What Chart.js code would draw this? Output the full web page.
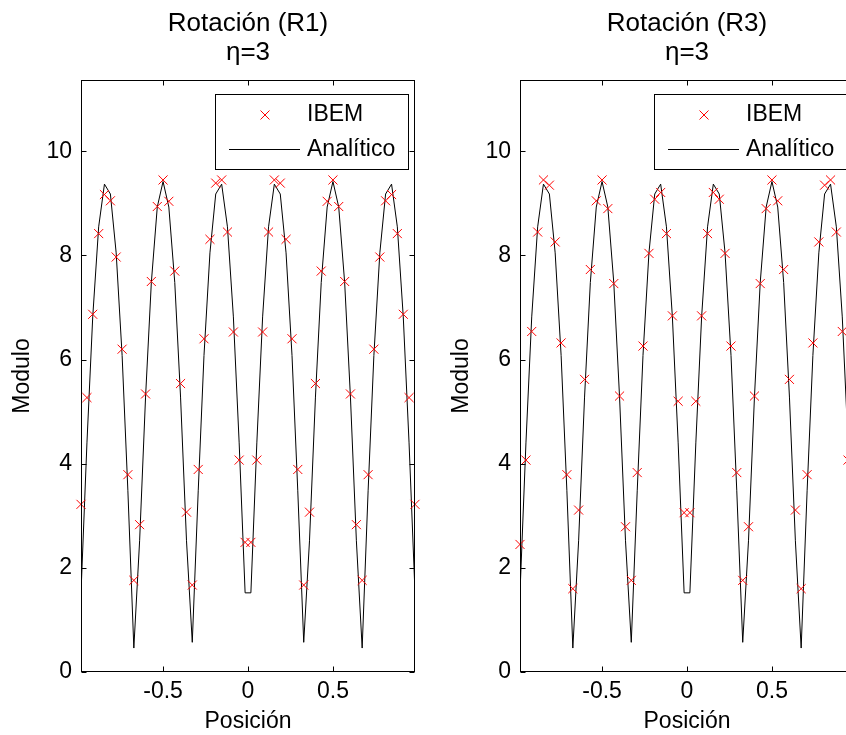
<!DOCTYPE html>
<html>
<head>
<meta charset="utf-8">
<script src="https://cdn.jsdelivr.net/npm/chart.js@4.4.1/dist/chart.umd.min.js"></script>
<style>
  html, body { margin: 0; padding: 0; background: #fff; overflow: hidden; }
  body { width: 846px; height: 735px; position: relative; }
  .panel { position: absolute; top: 0; width: 430px; height: 735px; }
</style>
</head>
<body>
<div class="panel" style="left:0"><canvas id="graficoR1"></canvas></div>
<div class="panel" style="left:439px"><canvas id="graficoR3"></canvas></div>
<script>
// posiciones de los elementos (centros) y valores
const posicion = [-0.983, -0.948, -0.914, -0.879, -0.845, -0.810, -0.776, -0.741, -0.707, -0.672,
  -0.638, -0.603, -0.569, -0.534, -0.500, -0.466, -0.431, -0.397, -0.362, -0.328,
  -0.293, -0.259, -0.224, -0.190, -0.155, -0.121, -0.086, -0.052, -0.017,
  0.017, 0.052, 0.086, 0.121, 0.155, 0.190, 0.224, 0.259, 0.293,
  0.328, 0.362, 0.397, 0.431, 0.466, 0.500, 0.534, 0.569, 0.603, 0.638,
  0.672, 0.707, 0.741, 0.776, 0.810, 0.845, 0.879, 0.914, 0.948, 0.983];

const analitico = [1.52, 4.40, 6.82, 8.55, 9.37, 9.18, 8.05, 6.08, 3.48, 0.46,
  2.52, 5.28, 7.48, 8.93, 9.42, 8.93, 7.48, 5.28, 2.52, 0.57,
  3.48, 6.08, 8.05, 9.18, 9.37, 8.55, 6.82, 4.40, 1.52,
  1.52, 4.40, 6.82, 8.55, 9.37, 9.18, 8.05, 6.08, 3.48,
  0.57, 2.52, 5.28, 7.48, 8.93, 9.42, 8.93, 7.48, 5.28, 2.52,
  0.46, 3.48, 6.08, 8.05, 9.18, 9.37, 8.55, 6.82, 4.40, 1.52];

const ibemR1 = [3.22, 5.27, 6.87, 8.42, 9.17, 9.05, 7.97, 6.20, 3.79, 1.76,
  2.83, 5.34, 7.50, 8.94, 9.45, 9.04, 7.70, 5.54, 3.07, 1.67,
  3.89, 6.40, 8.31, 9.39, 9.45, 8.45, 6.53, 4.07, 2.49,
  2.49, 4.07, 6.53, 8.45, 9.45, 9.39, 8.31, 6.40, 3.89,
  1.67, 3.07, 5.54, 7.70, 9.04, 9.45, 8.94, 7.50, 5.34, 2.83,
  1.76, 3.79, 6.20, 7.97, 9.05, 9.17, 8.42, 6.87, 5.27, 3.22];

const ibemR3 = [2.45, 4.07, 6.54, 8.45, 9.45, 9.35, 8.26, 6.32, 3.79, 1.60,
  3.11, 5.62, 7.73, 9.05, 9.45, 8.90, 7.46, 5.30, 2.79, 1.76,
  3.83, 6.26, 8.04, 9.08, 9.21, 8.42, 6.84, 5.20, 3.06,
  3.06, 5.20, 6.84, 8.42, 9.21, 9.08, 8.04, 6.26, 3.83,
  1.76, 2.79, 5.30, 7.46, 8.90, 9.45, 9.05, 7.73, 5.62, 3.11,
  1.60, 3.79, 6.32, 8.26, 9.35, 9.45, 8.45, 6.54, 4.07, 2.45];

const ticksX = [-0.5, 0, 0.5];
const ticksY = [0, 2, 4, 6, 8, 10];
const tituloR1 = ['Rotación (R1)', 'η=3'];
const tituloR3 = ['Rotación (R3)', 'η=3'];

const fuente = '"Liberation Sans", Arial, Helvetica, sans-serif';

// titulo de dos lineas centrado sobre el area del grafico
const titulo = {
  id: 'titulo',
  afterDraw(chart, args, opts) {
    const { ctx, chartArea: a } = chart;
    const cx = (a.left + a.right) / 2;
    ctx.save();
    ctx.fillStyle = '#000';
    ctx.font = '26px ' + fuente;
    ctx.textAlign = 'center';
    ctx.textBaseline = 'alphabetic';
    opts.texto.forEach((t, i) => ctx.fillText(t, cx, 31 + i * 29));
    ctx.restore();
  }
};

// caja de ejes con marcas hacia dentro (estilo matlab)
const marcoEjes = {
  id: 'marcoEjes',
  afterDatasetsDraw(chart) {
    const { ctx, chartArea: a, scales } = chart;
    const L = Math.round(a.left) + 0.5, R = Math.round(a.right) - 0.5;
    const T = Math.round(a.top) + 0.5, B = Math.round(a.bottom) - 0.5;
    ctx.save();
    ctx.strokeStyle = '#000';
    ctx.lineWidth = 1;
    ctx.strokeRect(L, T, R - L, B - T);
    ctx.beginPath();
    ticksX.forEach(v => {
      const px = Math.round(scales.x.getPixelForValue(v)) + 0.5;
      ctx.moveTo(px, B); ctx.lineTo(px, B - 5);
      ctx.moveTo(px, T); ctx.lineTo(px, T + 5);
    });
    ticksY.forEach(v => {
      const py = Math.round(scales.y.getPixelForValue(v)) + 0.5;
      ctx.moveTo(L, py); ctx.lineTo(L + 5, py);
      ctx.moveTo(R, py); ctx.lineTo(R - 5, py);
    });
    ctx.stroke();
    ctx.restore();
  }
};

// leyenda con borde dentro del area, arriba a la derecha
const leyendaCaja = {
  id: 'leyendaCaja',
  afterDraw(chart) {
    const { ctx, chartArea: a } = chart;
    const [dsIbem, dsAna] = chart.data.datasets;
    const w = 193, h = 75;
    const x0 = Math.round(a.right) - 7 - w, y0 = Math.round(a.top) + 14;
    ctx.save();
    ctx.fillStyle = '#fff';
    ctx.fillRect(x0, y0, w, h);
    ctx.strokeStyle = '#000';
    ctx.lineWidth = 1;
    ctx.strokeRect(x0 + 0.5, y0 + 0.5, w, h);
    // marcador x
    const mx = x0 + 50, my = y0 + 21;
    ctx.strokeStyle = dsIbem.borderColor;
    ctx.beginPath();
    ctx.moveTo(mx - 4.5, my - 4.5); ctx.lineTo(mx + 4.5, my + 4.5);
    ctx.moveTo(mx + 4.5, my - 4.5); ctx.lineTo(mx - 4.5, my + 4.5);
    ctx.stroke();
    // linea
    ctx.strokeStyle = dsAna.borderColor;
    ctx.beginPath();
    ctx.moveTo(x0 + 14, y0 + 55.5); ctx.lineTo(x0 + 85, y0 + 55.5);
    ctx.stroke();
    ctx.fillStyle = '#000';
    ctx.font = '23px ' + fuente;
    ctx.textBaseline = 'middle';
    ctx.fillText(dsIbem.label, x0 + 92, my);
    ctx.fillText(dsAna.label, x0 + 92, y0 + 56);
    ctx.restore();
  }
};

function crearGrafico(id, ibem, texto) {
  const puntosIbem = posicion.map((x, i) => ({ x: x, y: ibem[i] }));
  const puntosAna = posicion.map((x, i) => ({ x: x, y: analitico[i] }));

  return new Chart(document.getElementById(id), {
    type: 'scatter',
    data: {
      datasets: [
        {
          label: 'IBEM', data: puntosIbem, showLine: false,
          pointStyle: 'crossRot', pointRadius: 6.4, pointBorderWidth: 1,
          borderColor: '#ff0000', backgroundColor: '#ff0000', clip: false
        },
        {
          label: 'Analítico', data: puntosAna, showLine: true,
          borderColor: '#000000', borderWidth: 1, pointRadius: 0, tension: 0, fill: false
        }
      ]
    },
    options: {
      responsive: true,
      maintainAspectRatio: false,
      animation: false,
      events: [],
      layout: { padding: { top: 80, right: 15, left: 0, bottom: 0 } },
      plugins: {
        legend: { display: false },
        tooltip: { enabled: false },
        titulo: { texto: texto }
      },
      scales: {
        x: {
          type: 'linear', min: -0.983, max: 0.983,
          afterBuildTicks: s => { s.ticks = ticksX.map(v => ({ value: v })); },
          afterFit: s => { s.height = 63; },
          grid: { display: false, drawTicks: false },
          border: { display: false },
          ticks: { color: '#000', font: { family: fuente, size: 23 }, padding: 6, maxRotation: 0, callback: v => String(v) },
          title: { display: true, text: 'Posición', color: '#000', font: { family: fuente, size: 23 }, padding: { top: 0, bottom: 0 } }
        },
        y: {
          min: 0, max: 11.37,
          afterBuildTicks: s => { s.ticks = ticksY.map(v => ({ value: v })); },
          afterFit: s => { s.width = 81; },
          grid: { display: false, drawTicks: false },
          border: { display: false },
          ticks: { color: '#000', font: { family: fuente, size: 23 }, padding: 9, callback: v => String(v) },
          title: { display: true, text: 'Modulo', color: '#000', font: { family: fuente, size: 23 }, padding: { top: 9, bottom: 0 } }
        }
      }
    },
    plugins: [titulo, marcoEjes, leyendaCaja]
  });
}

crearGrafico('graficoR1', ibemR1, tituloR1);
crearGrafico('graficoR3', ibemR3, tituloR3);
</script>
</body>
</html>
